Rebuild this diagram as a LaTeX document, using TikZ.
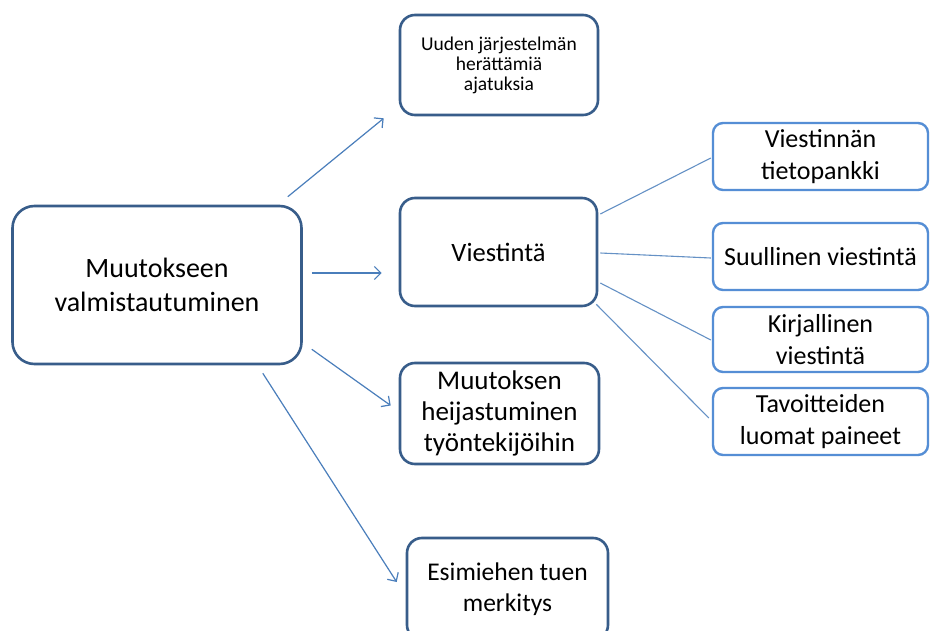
\documentclass[tikz,border=0pt]{standalone}
\usepackage{fontspec}
\setmainfont{Carlito}
\usetikzlibrary{arrows.meta}
\definecolor{darkedge}{HTML}{385D8A}
\definecolor{lightedge}{HTML}{558ED5}
\definecolor{linkblue}{HTML}{4A7EBB}
\tikzset{
  mainbox/.style={draw=darkedge, line width=2.6pt, rounded corners=22pt, fill=white,
    align=center, inner sep=0pt, font=\fontsize{28}{34}\selectfont},
  topicbox/.style={draw=darkedge, line width=2.6pt, rounded corners=15pt, fill=white,
    align=center, inner sep=0pt, font=\fontsize{25.5}{31}\selectfont},
  smallbox/.style={topicbox, font=\fontsize{19.5}{20}\selectfont},
  subbox/.style={draw=lightedge, line width=2.4pt, rounded corners=10pt, fill=white,
    align=center, inner sep=0pt, font=\fontsize{26}{32}\selectfont},
  arr/.style={draw=linkblue, line width=1.2pt, -{Straight Barb[length=6.5pt,width=13pt,line width=1.2pt]}},
  link/.style={draw=linkblue!85, line width=1.1pt},
}
\begin{document}
\begin{tikzpicture}[x=1pt,y=-1pt]
  \useasboundingbox (0,0) rectangle (930,631);
  \clip (0,0) rectangle (930,631);
  \fill[white] (0,0) rectangle (930,631);

  % left-hand root
  \node[mainbox, minimum width=289pt, minimum height=158pt] (main) at (157,285)
    {Muutokseen\\valmistautuminen};

  % middle column
  \node[smallbox, minimum width=198pt, minimum height=100pt] (uuden) at (499,65)
    {\strut Uuden järjestelmän\\herättämiä\\ajatuksia};
  \node[topicbox, font=\fontsize{26.5}{31}\selectfont, minimum width=197pt, minimum height=108pt] (viest) at (498.5,252)
    {Viestintä};
  \node[topicbox, font=\fontsize{27}{31}\selectfont, minimum width=199pt, minimum height=101pt] (muut) at (499.5,413.5)
    {Muutoksen\\heijastuminen\\työntekijöihin};
  \node[topicbox, minimum width=201pt, minimum height=102pt] (esim) at (507.5,589)
    {Esimiehen tuen\\merkitys};

  % right column
  \node[subbox, minimum width=215pt, minimum height=67pt] (tieto) at (820.5,156.5)
    {Viestinnän\\tietopankki};
  \node[subbox, minimum width=215pt, minimum height=67pt] (suul) at (820.5,256.5)
    {Suullinen viestintä};
  \node[subbox, minimum width=215pt, minimum height=65pt] (kirj) at (820.5,339.5)
    {Kirjallinen\\viestintä};
  \node[subbox, minimum width=215pt, minimum height=67pt] (tavo) at (820.5,421.5)
    {Tavoitteiden\\luomat paineet};

  % arrows from the root
  \draw[arr] ([shift={(-15,-8)}]main.north east) -- ([shift={(-15,2)}]uuden.south west);
  \draw[arr] ([shift={(9,-12)}]main.east) -- ([shift={(-17,21)}]viest.west);
  \draw[arr] ([shift={(9,-16)}]main.south east) -- ([shift={(-8,-8)}]muut.west);
  \draw[arr] ([shift={(-40,8)}]main.south east) -- ([shift={(-9,-7)}]esim.west);

  % plain links from Viestintä
  \draw[link] ([shift={(2,-38)}]viest.east) -- ([shift={(-1,1.5)}]tieto.west);
  \draw[link] ([shift={(2,1)}]viest.east) -- ([shift={(-1,1.5)}]suul.west);
  \draw[link] ([shift={(2,31)}]viest.east) -- ([shift={(-1,0.5)}]kirj.west);
  \draw[link] ([shift={(-2,-3)}]viest.south east) -- ([shift={(-3,-3.5)}]tavo.west);
\end{tikzpicture}
\end{document}
